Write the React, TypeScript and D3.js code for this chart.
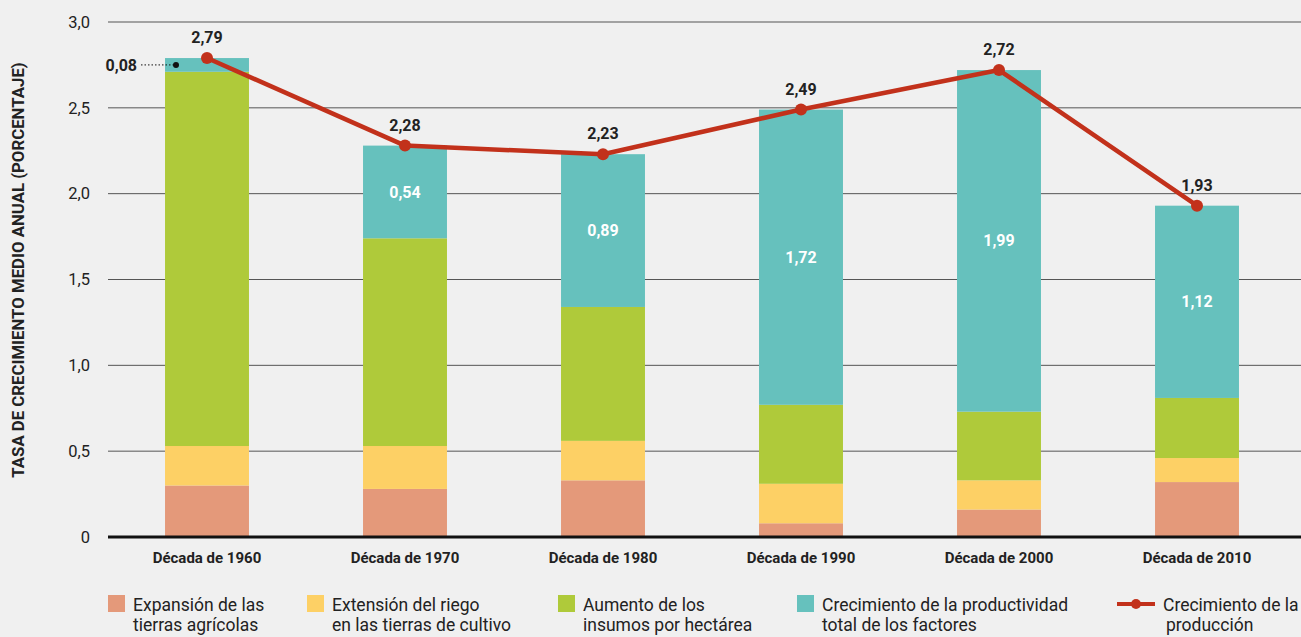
import React from "react";
import * as d3 from "d3";

const decades = ["Década de 1960", "Década de 1970", "Década de 1980", "Década de 1990", "Década de 2000", "Década de 2010"];
const expansion = [0.30, 0.28, 0.33, 0.08, 0.16, 0.32];
const riego = [0.23, 0.25, 0.23, 0.23, 0.17, 0.14];
const insumos = [2.18, 1.21, 0.78, 0.46, 0.40, 0.35];
const ptf = [0.08, 0.54, 0.89, 1.72, 1.99, 1.12];
const produccion = [2.79, 2.28, 2.23, 2.49, 2.72, 1.93];
const yTicks = [0, 0.5, 1, 1.5, 2, 2.5, 3];

const seriesKeys = ["expansion", "riego", "insumos", "ptf"];
const colors = ["#e4997a", "#fdd065", "#afca3a", "#66c1bd"];
const lineColor = "#c2311b";
const FONT = "Roboto, sans-serif";

const W = 1301;
const H = 637;

export default function App() {
  const rows = decades.map((d, i) => ({
    decade: d,
    expansion: expansion[i],
    riego: riego[i],
    insumos: insumos[i],
    ptf: ptf[i],
  }));
  const stacked = d3.stack<any>().keys(seriesKeys)(rows);

  const x = d3.scaleBand().domain(decades).range([108, 1296]).paddingInner(0.576).paddingOuter(0.288);
  const y = d3.scaleLinear().domain([0, 3]).range([537, 22]);
  const fmt = (v: number) => (v === 0 ? "0" : d3.format(".1f")(v).replace(".", ","));
  const fmt2 = (v: number) => d3.format(".2f")(v).replace(".", ",");
  const cx = (d: string) => (x(d) as number) + x.bandwidth() / 2;

  const line = d3.line<number>().x((_, i) => cx(decades[i])).y(v => y(v));

  const legendItems = [
    { x: 108, lines: ["Expansión de las", "tierras agrícolas"], color: colors[0] },
    { x: 307, lines: ["Extensión del riego", "en las tierras de cultivo"], color: colors[1] },
    { x: 558, lines: ["Aumento de los", "insumos por hectárea"], color: colors[2] },
    { x: 797, lines: ["Crecimiento de la productividad", "total de los factores"], color: colors[3] },
  ];

  const first = stacked[3][0];
  const midFirst = (y(first[0]) + y(first[1])) / 2;

  return (
    <svg width={W} height={H} style={{ position: "absolute", left: 0, top: 0 }} fontFamily={FONT}>
      <rect width={W} height={H} fill="#f0f0f0" />
      {yTicks.map(t => (
        <g key={t}>
          {t > 0 && <line x1={108} x2={W} y1={y(t)} y2={y(t)} stroke="#555" strokeWidth={1} />}
          <text x={90} y={y(t)} dy="0.35em" textAnchor="end" fontSize={16.5} fill="#222">{fmt(t)}</text>
        </g>
      ))}
      <text transform={`translate(24, 270) rotate(-90)`} textAnchor="middle" fontSize={16.8} fontWeight="bold" fill="#222">
        TASA DE CRECIMIENTO MEDIO ANUAL (PORCENTAJE)
      </text>
      {stacked.map((layer, li) => (
        <g key={li} fill={colors[li]}>
          {layer.map((d, i) => (
            <rect key={i} x={x(decades[i])} width={x.bandwidth()} y={y(d[1])} height={y(d[0]) - y(d[1])} />
          ))}
        </g>
      ))}
      <line x1={108} x2={W} y1={y(0)} y2={y(0)} stroke="#111" strokeWidth={3} />
      {stacked[3].map((d, i) =>
        i === 0 ? null : (
          <text key={i} x={cx(decades[i])} y={(y(d[0]) + y(d[1])) / 2} dy="0.35em" textAnchor="middle" fill="#fff" fontSize={16} fontWeight="bold">
            {fmt2(ptf[i])}
          </text>
        )
      )}
      <line x1={141} x2={176} y1={midFirst} y2={midFirst} stroke="#111" strokeDasharray="1.5 2" strokeWidth={1} />
      <circle cx={176} cy={midFirst} r={3} fill="#111" />
      <text x={137} y={midFirst} dy="0.35em" textAnchor="end" fontSize={16} fontWeight="bold" fill="#222">{fmt2(ptf[0])}</text>
      {decades.map(d => (
        <text key={d} x={cx(d)} y={563} textAnchor="middle" fontSize={15} fontWeight="bold" fill="#222">{d}</text>
      ))}
      <path d={line(produccion) || ""} fill="none" stroke={lineColor} strokeWidth={4.5} strokeLinejoin="round" />
      {produccion.map((v, i) => (
        <g key={i}>
          <circle cx={cx(decades[i])} cy={y(v)} r={6} fill={lineColor} />
          <text x={cx(decades[i])} y={y(v) - 15} textAnchor="middle" fontSize={16} fontWeight="bold" fill="#222">{fmt2(v)}</text>
        </g>
      ))}
      {legendItems.map(item => (
        <g key={item.x}>
          <rect x={item.x} y={595} width={17} height={17} fill={item.color} />
          {item.lines.map((l, j) => (
            <text key={j} x={item.x + 25} y={611 + j * 20} fontSize={17.5} fill="#222">{l}</text>
          ))}
        </g>
      ))}
      <g>
        <line x1={1117} x2={1155} y1={604} y2={604} stroke={lineColor} strokeWidth={4} />
        <circle cx={1136} cy={604} r={5} fill={lineColor} />
        <text x={1163} y={611} fontSize={17.5} fill="#222">Crecimiento de la</text>
        <text x={1163} y={631} fontSize={17.5} fill="#222" dx={3}>producción</text>
      </g>
    </svg>
  );
}
